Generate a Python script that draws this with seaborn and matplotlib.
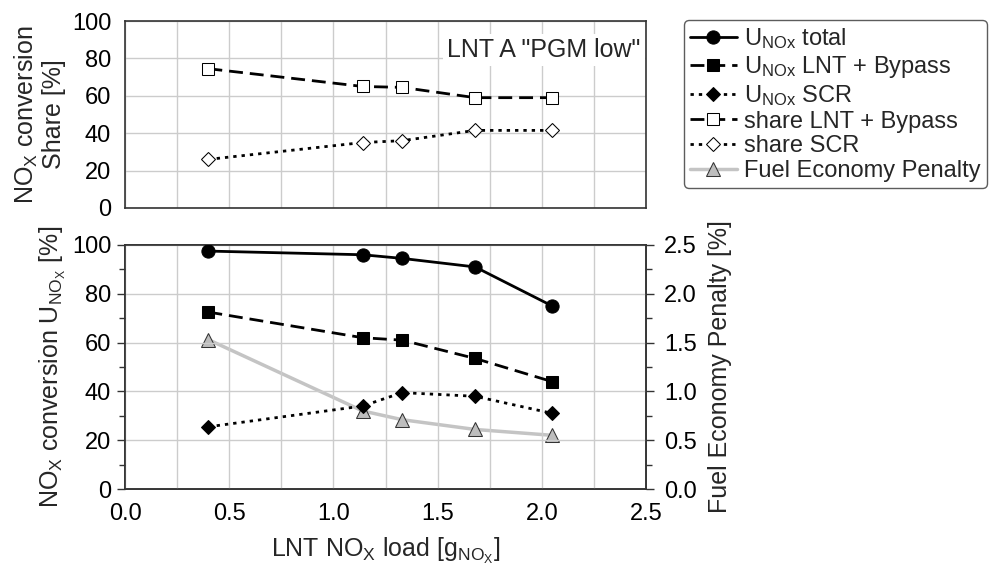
import numpy as np
import pandas as pd
import seaborn as sns
import matplotlib.pyplot as plt
from matplotlib.ticker import MultipleLocator

# data
nox_load = [0.40, 1.14, 1.33, 1.68, 2.05]
u_total = [97.5, 96.0, 94.5, 91.0, 75.0]
u_lnt_bypass = [72.5, 62.0, 61.0, 53.5, 44.0]
u_scr = [25.5, 34.0, 39.5, 38.0, 31.0]
share_lnt_bypass = [74.5, 65.0, 64.5, 59.0, 59.0]
share_scr = [26.0, 35.0, 36.0, 41.5, 41.5]
fuel_penalty = [1.53, 0.80, 0.71, 0.61, 0.55]

sns.set_style("white")
plt.rcParams['font.family'] = ['Liberation Sans', 'DejaVu Sans']
plt.rcParams['mathtext.fontset'] = 'custom'
plt.rcParams['mathtext.rm'] = 'Liberation Sans'
plt.rcParams['mathtext.it'] = 'Liberation Sans'
plt.rcParams['font.size'] = 17

fig = plt.figure(figsize=(9.94, 5.65), dpi=100)
ax_top = fig.add_axes([0.1258, 0.6319, 0.5241, 0.3309])
ax_bot = fig.add_axes([0.1258, 0.1345, 0.5241, 0.4319])
ax_r = ax_bot.twinx()

df = pd.DataFrame({"x": nox_load, "tot": u_total, "lnt": u_lnt_bypass, "scr": u_scr,
                   "slnt": share_lnt_bypass, "sscr": share_scr, "fuel": fuel_penalty})

lw = 2
sns.lineplot(data=df, x="x", y="tot", ax=ax_bot, color="black", lw=lw, marker="o",
             markersize=9.5, markeredgecolor="black", label=r"U$_{\mathrm{NOx}}$ total", zorder=5)
sns.lineplot(data=df, x="x", y="lnt", ax=ax_bot, color="black", lw=lw, marker="s",
             markersize=8, markeredgecolor="black", label=r"U$_{\mathrm{NOx}}$ LNT + Bypass", zorder=5)
sns.lineplot(data=df, x="x", y="scr", ax=ax_bot, color="black", lw=lw, marker="D",
             markersize=7.5, markeredgecolor="black", label=r"U$_{\mathrm{NOx}}$ SCR", zorder=5)
sns.lineplot(data=df, x="x", y="slnt", ax=ax_top, color="black", lw=lw, marker="s",
             markersize=8, markerfacecolor="white", markeredgecolor="black", label="share LNT + Bypass")
sns.lineplot(data=df, x="x", y="sscr", ax=ax_top, color="black", lw=lw, marker="D",
             markersize=7.5, markerfacecolor="white", markeredgecolor="black", label="share SCR")
sns.lineplot(data=df, x="x", y="fuel", ax=ax_r, color="#c4c4c4", lw=2.5, marker="^",
             markersize=10.5, markerfacecolor="#bdbdbd", markeredgecolor="#333333", label="Fuel Economy Penalty")

ax_bot.lines[1].set_dashes([5, 2.5])
ax_bot.lines[2].set_dashes([1.2, 1.8])
ax_top.lines[0].set_dashes([5, 2.5])
ax_top.lines[1].set_dashes([1.2, 1.8])

# keep the fuel line behind the left axis lines
ax_bot.set_zorder(ax_r.get_zorder() + 1)
ax_bot.patch.set_visible(False)

spine_c = "#333333"
for ax in (ax_top, ax_bot, ax_r):
    for s in ax.spines.values():
        s.set_color(spine_c)
        s.set_linewidth(1.2)
    ax.tick_params(direction="out", colors=spine_c, labelcolor="black", length=6, width=1,
                   labelsize=17, pad=4)
    ax.tick_params(which="minor", direction="out", colors=spine_c, length=4, width=1)
ax_r.tick_params(axis="y", pad=7)

for ax in (ax_top, ax_bot):
    ax.set_xlim(0, 2.5)
    ax.set_ylim(0, 100)
    ax.xaxis.set_major_locator(MultipleLocator(0.5))
    ax.xaxis.set_minor_locator(MultipleLocator(0.25))
    ax.yaxis.set_major_locator(MultipleLocator(20))
    ax.yaxis.set_minor_locator(MultipleLocator(10))
    ax.grid(True, which="major", axis="y", color="#cccccc", lw=1)
    ax.grid(True, which="both", axis="x", color="#cccccc", lw=1)
    ax.set_axisbelow(True)

ax_r.set_ylim(0, 2.5)
ax_r.yaxis.set_major_locator(MultipleLocator(0.5))
ax_r.yaxis.set_minor_locator(MultipleLocator(0.25))
ax_r.yaxis.set_major_formatter(lambda v, p: f"{v:.1f}")
ax_bot.xaxis.set_major_formatter(lambda v, p: f"{v:.1f}")

ax_top.tick_params(axis="x", which="both", labelbottom=False)
ax_top.set_xlabel("")
ax_top.set_ylabel("NO$_\\mathrm{X}$ conversion\nShare [%]", fontsize=18, labelpad=4, linespacing=1.1)
ax_bot.set_ylabel("NO$_\\mathrm{X}$ conversion U$_{\\mathrm{NO_X}}$ [%]", fontsize=18, labelpad=3)
ax_r.set_ylabel("Fuel Economy Penalty [%]", fontsize=18, labelpad=8)
ax_bot.set_xlabel("LNT NO$_\\mathrm{X}$ load [g$_{\\mathrm{NO_X}}$]", fontsize=18, labelpad=8)

ax_top.text(0.99, 0.91, 'LNT A "PGM low"', transform=ax_top.transAxes, ha="right", va="top",
            fontsize=18, bbox=dict(facecolor="white", edgecolor="none", pad=3))

handles = []
labels = []
for ax in (ax_bot, ax_top, ax_r):
    h, l = ax.get_legend_handles_labels()
    handles += h
    labels += l
    if ax.get_legend():
        ax.get_legend().remove()

leg = fig.legend(handles, labels, loc="upper left", bbox_to_anchor=(0.688, 0.964),
                 fontsize=17, frameon=True, fancybox=True, edgecolor="#333333",
                 handlelength=2.0, handletextpad=0.3, labelspacing=0.12, borderpad=0.25,
                 borderaxespad=0)
leg.get_frame().set_linewidth(1)

fig.savefig("out.png", dpi=100)
